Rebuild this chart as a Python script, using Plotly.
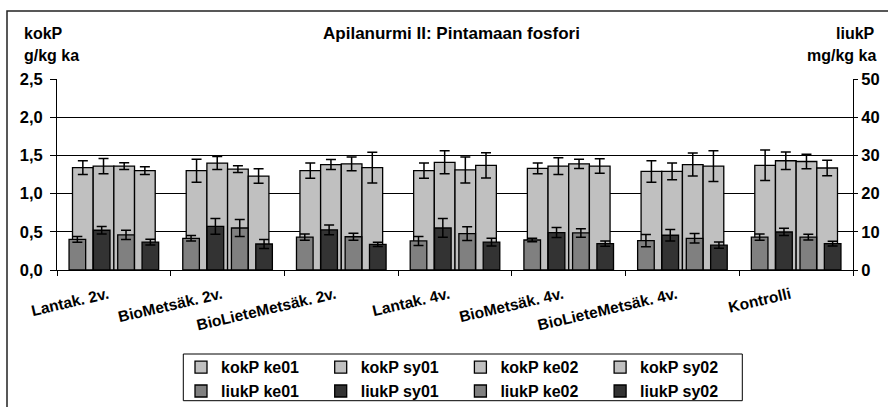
import plotly.graph_objects as go

# Treatments (x categories)
categories = ["Lantak. 2v.", "BioMetsäk. 2v.", "BioLieteMetsäk. 2v.", "Lantak. 4v.",
              "BioMetsäk. 4v.", "BioLieteMetsäk. 4v.", "Kontrolli"]

# Total phosphorus kokP (g/kg ka) with standard deviations
kokP_ke01 = [1.34, 1.30, 1.30, 1.30, 1.33, 1.29, 1.37]
kokP_ke01_sd = [0.09, 0.15, 0.10, 0.10, 0.07, 0.14, 0.20]
kokP_sy01 = [1.36, 1.40, 1.38, 1.41, 1.36, 1.29, 1.43]
kokP_sy01_sd = [0.10, 0.085, 0.065, 0.15, 0.11, 0.11, 0.115]
kokP_ke02 = [1.36, 1.32, 1.39, 1.31, 1.39, 1.38, 1.42]
kokP_ke02_sd = [0.045, 0.045, 0.09, 0.17, 0.06, 0.15, 0.095]
kokP_sy02 = [1.30, 1.23, 1.34, 1.37, 1.36, 1.36, 1.335]
kokP_sy02_sd = [0.05, 0.095, 0.20, 0.165, 0.095, 0.20, 0.10]

# Soluble phosphorus liukP (mg/kg ka) with standard deviations
liukP_ke01 = [8.0, 8.3, 8.6, 7.6, 7.85, 7.7, 8.6]
liukP_ke01_sd = [0.75, 0.7, 0.8, 1.2, 0.45, 1.6, 0.8]
liukP_sy01 = [10.4, 11.4, 10.5, 11.0, 9.8, 9.1, 9.95]
liukP_sy01_sd = [1.0, 2.05, 1.3, 2.45, 1.3, 1.5, 0.95]
liukP_ke02 = [9.2, 11.0, 8.7, 9.5, 9.7, 8.3, 8.6]
liukP_ke02_sd = [1.2, 2.2, 0.9, 1.8, 1.1, 1.25, 0.75]
liukP_sy02 = [7.3, 6.8, 6.7, 7.3, 6.9, 6.5, 6.9]
liukP_sy02_sd = [0.75, 1.2, 0.55, 1.0, 0.7, 0.8, 0.6]

# Axis ticks
left_ticks = [0, 0.5, 1.0, 1.5, 2.0, 2.5]
left_ticktext = ["0,0", "0,5", "1,0", "1,5", "2,0", "2,5"]
right_ticks = [0, 10, 20, 30, 40, 50]

FONT = "Liberation Sans, Arial, sans-serif"
LIGHT = "#C0C0C0"
MID = "#808080"
DARK = "#333333"

# bar geometry in category units
K_W = 1 / 5.5
K_OFF = [-2 * K_W, -K_W, 0, K_W]
L_W = 0.146
L_PITCH = 0.214
L_OFF = [(i - 1.5) * L_PITCH - L_W / 2 for i in range(4)]

fig = go.Figure()

kok_series = [("kokP ke01", kokP_ke01, kokP_ke01_sd),
              ("kokP sy01", kokP_sy01, kokP_sy01_sd),
              ("kokP ke02", kokP_ke02, kokP_ke02_sd),
              ("kokP sy02", kokP_sy02, kokP_sy02_sd)]
liuk_series = [("liukP ke01", liukP_ke01, liukP_ke01_sd, MID),
               ("liukP sy01", liukP_sy01, liukP_sy01_sd, DARK),
               ("liukP ke02", liukP_ke02, liukP_ke02_sd, MID),
               ("liukP sy02", liukP_sy02, liukP_sy02_sd, DARK)]

# legend columns: one column per sampling (kokP above liukP)
columns = ["c1", "c2", "c3", "c4"]

for i, (name, vals, sd) in enumerate(kok_series):
    fig.add_trace(go.Bar(
        x=categories, y=vals, name=name, legendgroup=columns[i],
        width=K_W, offset=K_OFF[i],
        marker=dict(color=LIGHT, line=dict(color="black", width=1.3)),
        error_y=dict(type="data", array=sd, color="black", thickness=1.5, width=5),
        xaxis="x", yaxis="y",
    ))

for i, (name, vals, sd, col) in enumerate(liuk_series):
    fig.add_trace(go.Bar(
        x=categories, y=vals, name=name, legendgroup=columns[i],
        width=L_W, offset=L_OFF[i],
        marker=dict(color=col, line=dict(color="black", width=1.3)),
        error_y=dict(type="data", array=sd, color="black", thickness=1.5, width=5),
        xaxis="x", yaxis="y2",
    ))

W, H = 888, 407
L, R, T, B = 57, 35, 79, 137
pw, ph = W - L - R, H - T - B


def px_x(p):
    return (p - L) / pw


def px_y(p):
    return (H - B - p) / ph


tick_font = dict(family=FONT, size=16.5, color="black", weight="bold")

fig.update_layout(
    width=W, height=H,
    margin=dict(l=L, r=R, t=T, b=B, autoexpand=False),
    paper_bgcolor="white", plot_bgcolor="white",
    barmode="overlay",
    showlegend=True,
    title=dict(text="Apilanurmi II: Pintamaan fosfori",
               font=dict(family=FONT, size=17, color="black", weight="bold"),
               xref="container", x=451.5 / W, xanchor="center",
               yref="container", y=1 - 33 / H, yanchor="middle"),
    xaxis=dict(
        type="category", range=[-0.5, len(categories) - 0.5],
        showline=True, linecolor="black", linewidth=1,
        ticks="outside", tickson="boundaries", ticklen=5, tickcolor="black",
        tickangle=-13, showgrid=False,
        ticklabelstandoff=9, ticklabelshift=-6,
        tickfont=dict(family=FONT, size=15.5, color="black", weight="bold"),
    ),
    yaxis=dict(
        range=[0, 2.5], tickvals=left_ticks, ticktext=left_ticktext,
        showline=True, linecolor="black", linewidth=1,
        ticks="outside", ticklen=6, tickcolor="black", ticklabelstandoff=4,
        showgrid=True, gridcolor="black", gridwidth=1,
        tickfont=tick_font, zeroline=False,
    ),
    yaxis2=dict(
        range=[0, 50], tickvals=right_ticks, overlaying="y", side="right",
        showline=True, linecolor="black", linewidth=1,
        ticks="outside", ticklen=4, tickcolor="black",
        showgrid=False, zeroline=False, tickfont=tick_font,
    ),
    legend=dict(
        orientation="h", xref="container", yref="container",
        x=181 / W, xanchor="left", y=1 - 350.3 / H, yanchor="top",
        borderwidth=0, bgcolor="rgba(0,0,0,0)",
        entrywidth=94.7, entrywidthmode="pixels",
        font=dict(family=FONT, size=16, color="black", weight="bold"),
        traceorder="grouped", tracegroupgap=0, groupclick="toggleitem",
    ),
)

ann_font = dict(family=FONT, size=16, color="black", weight="bold")
fig.add_annotation(text="kokP", xref="paper", yref="paper",
                   x=px_x(22), y=px_y(33), xanchor="left", yanchor="middle",
                   showarrow=False, font=ann_font)
fig.add_annotation(text="g/kg ka", xref="paper", yref="paper",
                   x=px_x(22), y=px_y(55), xanchor="left", yanchor="middle",
                   showarrow=False, font=ann_font)
fig.add_annotation(text="liukP", xref="paper", yref="paper",
                   x=px_x(877), y=px_y(33), xanchor="right", yanchor="middle",
                   showarrow=False, font=ann_font)
fig.add_annotation(text="mg/kg ka", xref="paper", yref="paper",
                   x=px_x(878), y=px_y(55), xanchor="right", yanchor="middle",
                   showarrow=False, font=ann_font)

# chart area frame
fig.add_shape(type="rect", xref="paper", yref="paper",
              x0=px_x(7), x1=px_x(W + 20), y0=px_y(H + 20), y1=px_y(11),
              line=dict(color="#222222", width=1.5), fillcolor="rgba(0,0,0,0)", layer="below")

# legend frame
fig.add_shape(type="rect", xref="paper", yref="paper",
              x0=px_x(183.3), x1=px_x(742.3), y0=px_y(400.7), y1=px_y(354),
              line=dict(color="black", width=1), fillcolor="rgba(0,0,0,0)", layer="below")

fig.write_html("out.html")
